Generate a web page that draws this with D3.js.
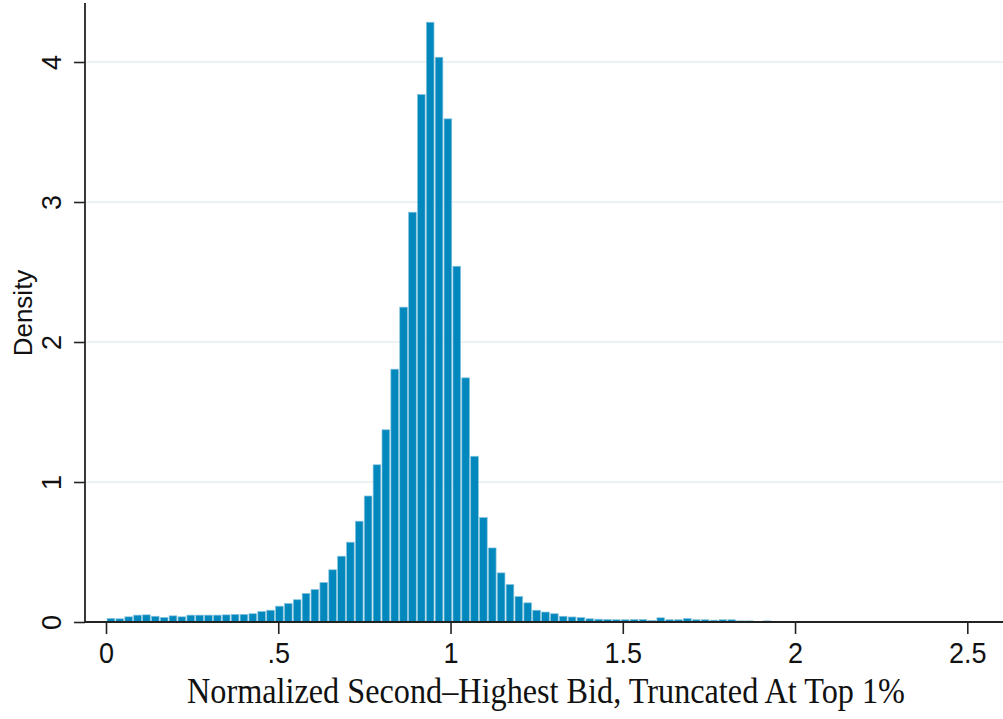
<!DOCTYPE html>
<html>
<head>
<meta charset="utf-8">
<script src="https://cdn.jsdelivr.net/npm/d3@7"></script>
<style>
html,body{margin:0;padding:0;background:#fff;}
svg{display:block;}
</style>
</head>
<body>
<svg id="chart" width="1003" height="719"></svg>
<script>
// ---- data ----
const binStart = 0.002;
const binWidth = 0.02574;
const densities = [
  0.025, 0.023, 0.037, 0.049, 0.051, 0.041, 0.032, 0.044, 0.037, 0.049,
  0.049, 0.049, 0.049, 0.051, 0.054, 0.054, 0.059, 0.075, 0.084, 0.113,
  0.132, 0.159, 0.204, 0.232, 0.282, 0.373, 0.470, 0.570, 0.720, 0.900,
  1.123, 1.373, 1.806, 2.249, 2.927, 3.768, 4.284, 4.034, 3.594, 2.541,
  1.744, 1.184, 0.746, 0.529, 0.351, 0.268, 0.182, 0.137, 0.084, 0.071,
  0.059, 0.041, 0.036, 0.032, 0.023, 0.020, 0.018, 0.016, 0.016, 0.018,
  0.018, 0.011, 0.030, 0.016, 0.016, 0.025, 0.016, 0.016, 0.013, 0.016,
  0.016, 0.008, 0.008, 0.003, 0.008, 0.004
];
const xTicks = [0, 0.5, 1, 1.5, 2, 2.5];
const xTickLabels = ["0", ".5", "1", "1.5", "2", "2.5"];
const yTicks = [0, 1, 2, 3, 4];
const yTickLabels = ["0", "1", "2", "3", "4"];
const xTitle = "Normalized Second\u2013Highest Bid, Truncated At Top 1%";
const yTitle = "Density";

// ---- layout ----
const svg = d3.select("#chart");
const x = d3.scaleLinear().domain([0, 2.5]).range([106, 967.3]);
const y = d3.scaleLinear().domain([0, 4]).range([622, 62]);
const axisX = 85, plotRight = 1003, plotTop = 3;
const sans = "'Liberation Sans', Arial, Helvetica, sans-serif";

// gridlines
svg.append("g").selectAll("line").data(yTicks.filter(d => d > 0)).join("line")
  .attr("x1", axisX + 1).attr("x2", plotRight)
  .attr("y1", d => y(d)).attr("y2", d => y(d))
  .attr("stroke", "#e6eef1").attr("stroke-width", 1.6);

// bars
const bw = x(binWidth) - x(0);
svg.append("g").selectAll("rect").data(densities).join("rect")
  .attr("x", (d, i) => x(binStart + i * binWidth) + 0.4)
  .attr("width", bw - 1.2)
  .attr("y", d => y(d))
  .attr("height", d => y(0) - y(d))
  .attr("fill", "#0388bd")
  .attr("stroke", "#86c4de")
  .attr("stroke-width", 0.7);

// x axis
const xAxis = d3.axisBottom(x).tickValues(xTicks)
  .tickFormat((d, i) => xTickLabels[i]).tickSize(12);
const gx = svg.append("g").attr("transform", `translate(0,${y(0)})`).call(xAxis);
gx.select(".domain").remove();
gx.selectAll(".tick line").attr("stroke", "#222").attr("stroke-width", 1.6);
const xBase = 41;
gx.selectAll(".tick text").attr("fill", "#111")
  .attr("y", 0).attr("dy", null)
  .attr("transform", `translate(0,${xBase}) scale(1,1.1)`)
  .style("font-family", sans)
  .style("font-size", "27px");
svg.append("line").attr("x1", axisX).attr("x2", plotRight)
  .attr("y1", y(0)).attr("y2", y(0)).attr("stroke", "#222").attr("stroke-width", 1.8);

// y axis
const yAxis = d3.axisLeft(y).tickValues(yTicks)
  .tickFormat((d, i) => yTickLabels[i]).tickSize(11).tickPadding(0);
const gy = svg.append("g").attr("transform", `translate(${axisX},0)`).call(yAxis);
gy.select(".domain").remove();
gy.selectAll(".tick line").attr("stroke", "#222").attr("stroke-width", 1.6);
gy.selectAll(".tick text")
  .attr("x", 0).attr("dy", null).attr("y", 0)
  .attr("text-anchor", "middle")
  .attr("transform", "translate(-24,0) rotate(-90) scale(1,1.05)")
  .attr("fill", "#111")
  .style("font-family", sans)
  .style("font-size", "27px");
svg.append("line").attr("x1", axisX).attr("x2", axisX)
  .attr("y1", plotTop).attr("y2", y(0) + 0.9).attr("stroke", "#222").attr("stroke-width", 1.8);

// titles
svg.append("text").text(yTitle)
  .attr("text-anchor", "middle")
  .attr("transform", "translate(32,313) rotate(-90)")
  .attr("fill", "#111")
  .style("font-family", sans)
  .style("font-size", "26px");

const xt = svg.append("text").text(xTitle)
  .attr("text-anchor", "middle")
  .attr("x", 0).attr("y", 0)
  .attr("transform", "translate(546,703) scale(1,1.08)")
  .attr("fill", "#111")
  .style("font-family", "'Liberation Serif', 'Times New Roman', serif")
  .style("font-size", "100px");
const w100 = xt.node().getComputedTextLength();
xt.style("font-size", (100 * 718 / w100).toFixed(2) + "px");
</script>
</body>
</html>
